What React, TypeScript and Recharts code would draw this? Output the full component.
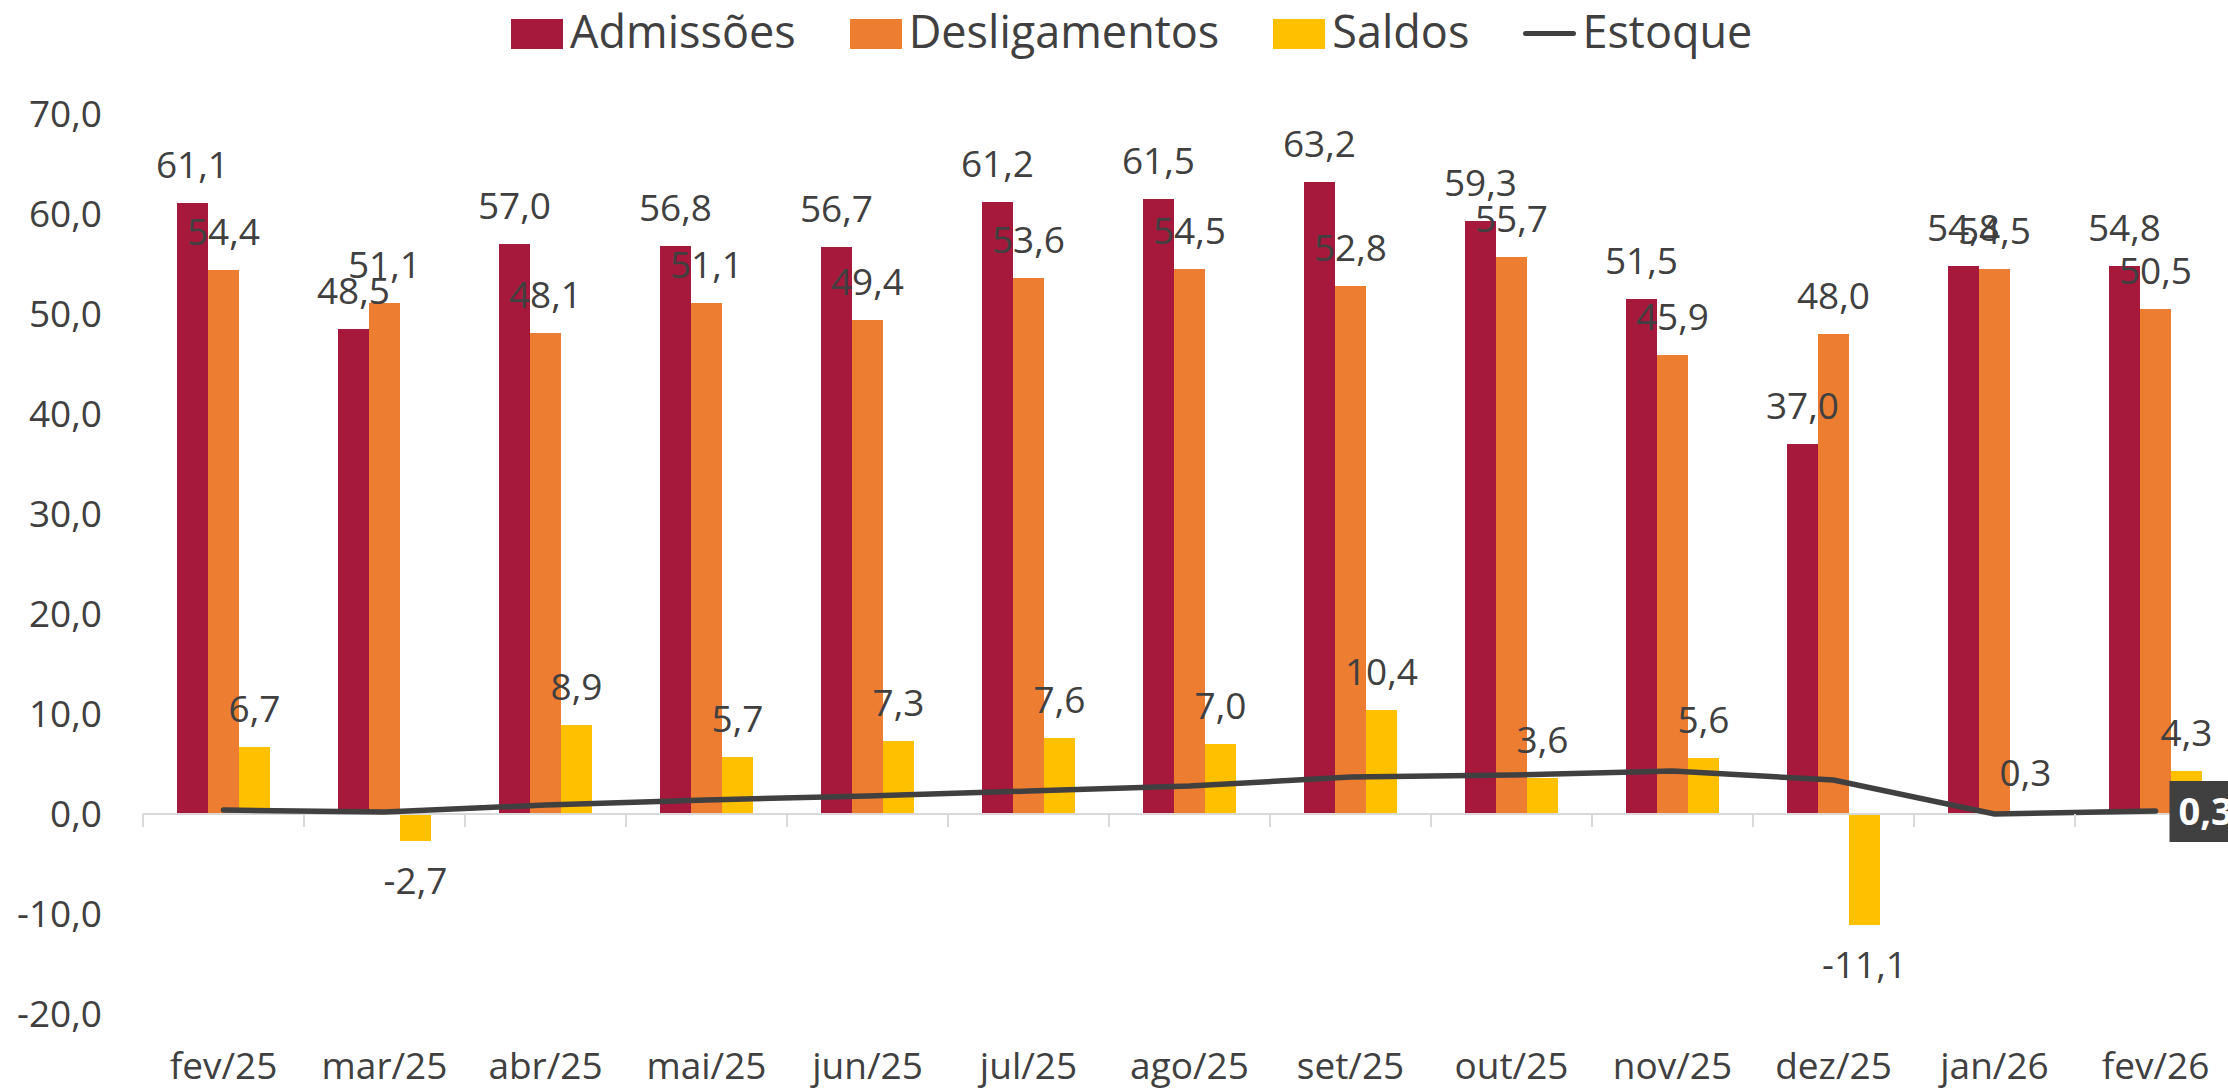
import React from 'react'
import {
  ComposedChart,
  Bar,
  Line,
  XAxis,
  YAxis,
  Legend,
  LabelList,
  ReferenceLine,
} from 'recharts'

const CATEGORIES = ['fev/25', 'mar/25', 'abr/25', 'mai/25', 'jun/25', 'jul/25', 'ago/25', 'set/25', 'out/25', 'nov/25', 'dez/25', 'jan/26', 'fev/26']
const ADMISSOES = [61.1, 48.5, 57.0, 56.8, 56.7, 61.2, 61.5, 63.2, 59.3, 51.5, 37.0, 54.8, 54.8]
const DESLIGAMENTOS = [54.4, 51.1, 48.1, 51.1, 49.4, 53.6, 54.5, 52.8, 55.7, 45.9, 48.0, 54.5, 50.5]
const SALDOS = [6.7, -2.7, 8.9, 5.7, 7.3, 7.6, 7.0, 10.4, 3.6, 5.6, -11.1, 0.3, 4.3]
const ESTOQUE = [0.4, 0.2, 0.9, 1.4, 1.8, 2.3, 2.8, 3.7, 3.9, 4.3, 3.4, 0.0, 0.3]
const Y_TICKS = [-20, -10, 0, 10, 20, 30, 40, 50, 60, 70]

const COLORS = {
  admissoes: '#A6193C',
  desligamentos: '#ED7D31',
  saldos: '#FFC000',
  estoque: '#404040',
}
const TEXT = '#404040'
const AXIS = '#D9D9D9'
const FONT = '"Open Sans", sans-serif'

// layout
const CHART_W = 2242
const CHART_H = 1091
const LEFT = 143
const TOP = 114
const X_AXIS_H = 77
const PLOT_W = CHART_W - LEFT - 6
const PLOT_H = CHART_H - TOP - X_AXIS_H
const CAT_W = PLOT_W / CATEGORIES.length
const ZERO_Y = TOP + PLOT_H * (70 / 90)

const fmt = (v: number) => v.toFixed(1).replace('.', ',')

const data = CATEGORIES.map((c, i) => ({
  mes: c,
  admissoes: ADMISSOES[i],
  desligamentos: DESLIGAMENTOS[i],
  saldos: SALDOS[i],
  estoque: ESTOQUE[i],
}))

const BarLabel = (props: any) => {
  const { x, y, width, height, value } = props
  const top = Math.min(y, y + height)
  const bottom = Math.max(y, y + height)
  const cx = x + width / 2
  return (
    <text
      x={cx}
      y={value >= 0 ? top - 25 : bottom + 53}
      textAnchor="middle"
      fill={TEXT}
      fontSize={37}
      fontFamily={FONT}
    >
      {fmt(value)}
    </text>
  )
}

const LastPointLabel = (props: any) => {
  const { x, y, value, index } = props
  if (index !== CATEGORIES.length - 1) return null
  return (
    <g>
      <rect x={x + 14} y={y - 30} width={74} height={61} fill={COLORS.estoque} />
      <text x={x + 23} y={y + 14} fill="#fff" fontSize={38} fontWeight="bold" fontFamily={FONT}>
        {fmt(value)}
      </text>
    </g>
  )
}

const XTick = (props: any) => {
  const { x, y, payload } = props
  const bx = x - CAT_W / 2
  return (
    <g>
      <line x1={bx} x2={bx} y1={ZERO_Y} y2={ZERO_Y + 13} stroke={AXIS} strokeWidth={2} />
      <text x={x} y={y + 65} textAnchor="middle" fill={TEXT} fontSize={37} fontFamily={FONT}>
        {payload.value}
      </text>
    </g>
  )
}

const legendItems = [
  { name: 'Admissões', color: COLORS.admissoes, type: 'rect' },
  { name: 'Desligamentos', color: COLORS.desligamentos, type: 'rect' },
  { name: 'Saldos', color: COLORS.saldos, type: 'rect' },
  { name: 'Estoque', color: COLORS.estoque, type: 'line' },
]

const LegendContent = () => (
  <div style={{ display: 'flex', alignItems: 'center', height: 62, paddingLeft: 511, fontFamily: FONT }}>
    {legendItems.map((it) => (
      <div key={it.name} style={{ display: 'flex', alignItems: 'center', marginRight: 54 }}>
        {it.type === 'rect' ? (
          <div style={{ width: 52, height: 30, background: it.color, marginTop: 6, marginRight: 7 }} />
        ) : (
          <div style={{ width: 53, height: 5, borderRadius: 3, background: it.color, marginTop: 4, marginRight: 6 }} />
        )}
        <span style={{ fontSize: 45, color: TEXT, lineHeight: '62px' }}>{it.name}</span>
      </div>
    ))}
  </div>
)

export default function App() {
  return (
    <div style={{ position: 'absolute', left: 0, top: 0, width: 2228, height: 1091, overflow: 'hidden', background: '#fff' }}>
      <ComposedChart
        width={CHART_W}
        height={CHART_H}
        data={data}
        margin={{ top: TOP, right: 6, bottom: 0, left: 0 }}
        barGap={0}
      >
        <XAxis
          dataKey="mes"
          height={X_AXIS_H}
          axisLine={false}
          tickLine={false}
          tickSize={0}
          tickMargin={0}
          interval={0}
          tick={<XTick />}
        />
        <YAxis
          width={LEFT}
          domain={[-20, 70]}
          ticks={Y_TICKS}
          axisLine={false}
          tickLine={false}
          tickSize={0}
          tickMargin={41}
          tickFormatter={fmt}
          tick={{ fill: TEXT, fontSize: 37, fontFamily: FONT }}
        />
        <Legend
          verticalAlign="middle"
          content={<LegendContent />}
          wrapperStyle={{ top: 0, left: 0, width: CHART_W }}
        />
        <ReferenceLine y={0} stroke={AXIS} strokeWidth={2} />
        <Bar dataKey="admissoes" name="Admissões" fill={COLORS.admissoes} barSize={31} isAnimationActive={false}>
          <LabelList dataKey="admissoes" content={BarLabel} />
        </Bar>
        <Bar dataKey="desligamentos" name="Desligamentos" fill={COLORS.desligamentos} barSize={31} isAnimationActive={false}>
          <LabelList dataKey="desligamentos" content={BarLabel} />
        </Bar>
        <Bar dataKey="saldos" name="Saldos" fill={COLORS.saldos} barSize={31} isAnimationActive={false}>
          <LabelList dataKey="saldos" content={BarLabel} />
        </Bar>
        <Line
          type="linear"
          dataKey="estoque"
          name="Estoque"
          stroke={COLORS.estoque}
          strokeWidth={5.5}
          strokeLinecap="round"
          dot={false}
          activeDot={false}
          isAnimationActive={false}
        >
          <LabelList dataKey="estoque" content={LastPointLabel} />
        </Line>
      </ComposedChart>
    </div>
  )
}
